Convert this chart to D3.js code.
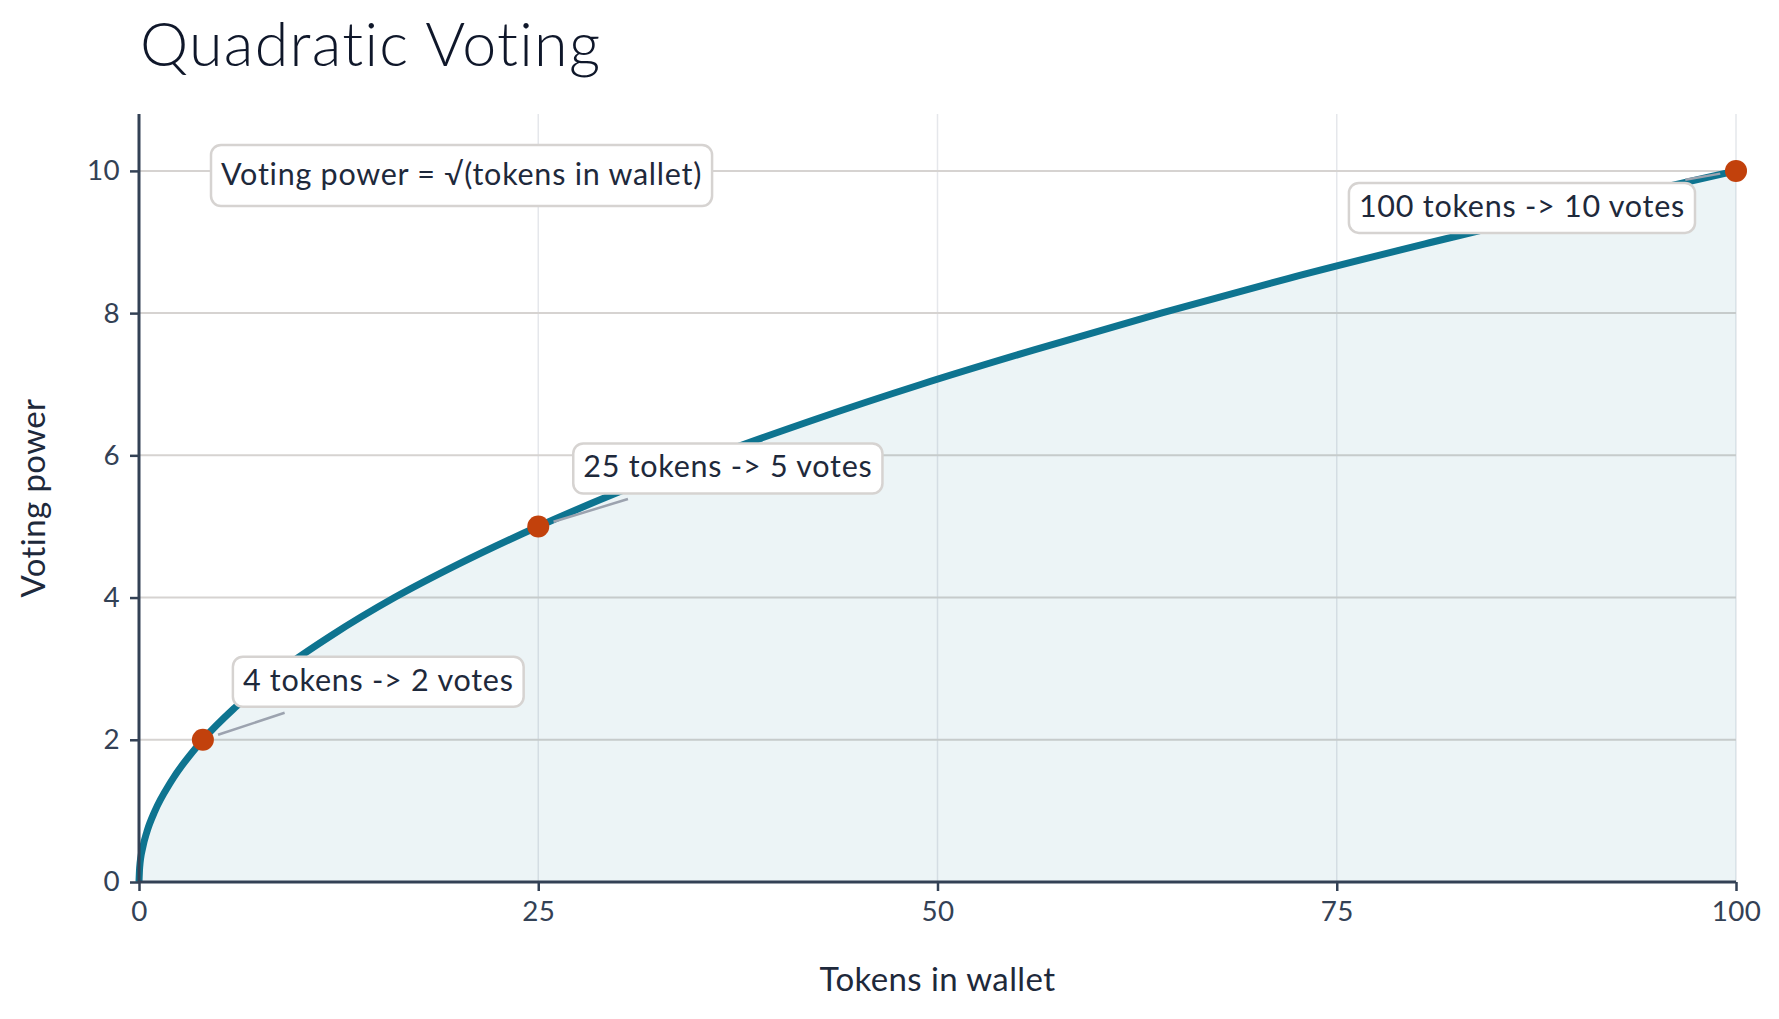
<!DOCTYPE html>
<html>
<head>
<meta charset="utf-8">
<script src="https://cdn.jsdelivr.net/npm/d3@7"></script>
<style>
  body { margin: 0; background: #fff; }
  svg { display: block; font-family: Lato, "Noto Sans", sans-serif; font-variant-ligatures: none; }
</style>
</head>
<body>
<div id="chart"></div>
<script>
// values
var tokens = [0, 0.04, 0.25, 0.5, 1, 2, 4, 6, 9, 12, 16, 20, 25, 30, 36, 42, 49, 56, 64, 72, 81, 90, 100];
var votes  = [0, 0.2, 0.5, 0.71, 1, 1.41, 2, 2.45, 3, 3.46, 4, 4.47, 5, 5.48, 6, 6.48, 7, 7.48, 8, 8.49, 9, 9.49, 10];

// highlighted points
var markTokens = [4, 25, 100];
var markVotes = [2, 5, 10];
var markLabels = ["4 tokens -> 2 votes", "25 tokens -> 5 votes", "100 tokens -> 10 votes"];

var xTicks = [0, 25, 50, 75, 100];
var yTicks = [0, 2, 4, 6, 8, 10];

var titleText = "Quadratic Voting";
var formulaText = "Voting power = \u221A(tokens in wallet)";

// label placement relative to each point (px): dx, dy to baseline, anchor
var labelOffsets = [
  {dx: 40, dy: -49, anchor: "start"},
  {dx: 45, dy: -49, anchor: "start"},
  {dx: -51, dy: 46, anchor: "end"}
];

var W = 1779, H = 1019;
var margin = {top: 114, right: 43, bottom: 137, left: 139},
    width = W - margin.left - margin.right,
    height = H - margin.top - margin.bottom;

var x = d3.scaleLinear().domain([0, 100]).range([0, width]);
var y = d3.scaleLinear().domain([0, 10.8]).range([height, 0]);

var svg = d3.select("#chart").append("svg")
    .attr("width", W)
    .attr("height", H);

svg.append("text")
    .attr("x", 140)
    .attr("y", 66)
    .attr("font-size", 61)
    .attr("font-weight", 300)
    .attr("letter-spacing", 1.3)
    .attr("fill", "#0f172a")
    .text(titleText);

var g = svg.append("g")
    .attr("transform", "translate(" + margin.left + "," + margin.top + ")");

// grid
g.selectAll(".vgrid").data(xTicks.slice(1)).enter().append("line")
    .attr("x1", function(d) { return x(d); })
    .attr("x2", function(d) { return x(d); })
    .attr("y1", 0).attr("y2", height)
    .attr("stroke", "#e5e7eb").attr("stroke-width", 1.5);

g.selectAll(".hgrid").data(yTicks.slice(1)).enter().append("line")
    .attr("x1", 0).attr("x2", width)
    .attr("y1", function(d) { return y(d); })
    .attr("y2", function(d) { return y(d); })
    .attr("stroke", "#d6d3d1").attr("stroke-width", 2);

var pts = tokens.map(function(t, i) { return [t, votes[i]]; });

var area = d3.area()
    .x(function(d) { return x(d[0]); })
    .y0(y(0))
    .y1(function(d) { return y(d[1]); })
    .curve(d3.curveMonotoneX);

var line = d3.line()
    .x(function(d) { return x(d[0]); })
    .y(function(d) { return y(d[1]); })
    .curve(d3.curveMonotoneX);

g.append("path").datum(pts)
    .attr("d", area)
    .attr("fill", "#0e7490")
    .attr("fill-opacity", 0.08);

g.append("path").datum(pts)
    .attr("d", line)
    .attr("fill", "none")
    .attr("stroke", "#0e7490")
    .attr("stroke-width", 7)
    .attr("stroke-linejoin", "round");

// axes
var xAxis = g.append("g")
    .attr("transform", "translate(0," + height + ")")
    .call(d3.axisBottom(x).tickValues(xTicks).tickSize(9).tickPadding(10));
var yAxis = g.append("g")
    .call(d3.axisLeft(y).tickValues(yTicks).tickSize(9).tickPadding(10));

[xAxis, yAxis].forEach(function(a) {
  a.select(".domain").attr("stroke", "#334155").attr("stroke-width", 3);
  a.selectAll(".tick line").attr("stroke", "#334155").attr("stroke-width", 2.5);
  a.selectAll(".tick text")
      .attr("fill", "#334155")
      .attr("font-size", 27.8)
      .attr("letter-spacing", 0.4)
      .attr("font-family", "Lato, 'Noto Sans', sans-serif");
});
xAxis.select(".domain").attr("d", "M0,0H" + width);
yAxis.select(".domain").attr("d", "M0," + height + "V0");

svg.append("text")
    .attr("x", margin.left + width / 2)
    .attr("y", 991)
    .attr("text-anchor", "middle")
    .attr("font-size", 33)
    .attr("letter-spacing", 0.4)
    .attr("fill", "#1e293b")
    .text("Tokens in wallet");

svg.append("text")
    .attr("transform", "translate(45," + (margin.top + height / 2) + ") rotate(-90)")
    .attr("text-anchor", "middle")
    .attr("font-size", 33)
    .attr("letter-spacing", 0.4)
    .attr("fill", "#1e293b")
    .text("Voting power");

// text box helper: returns the box rect in g coords
function textBox(parent, tx, ty, anchor, str, above, below) {
  var bg = parent.append("g");
  var rect = bg.append("rect");
  var t = bg.append("text")
      .attr("x", tx).attr("y", ty)
      .attr("text-anchor", anchor)
      .attr("font-size", 30.5)
      .attr("letter-spacing", 0.75)
      .attr("fill", "#1e293b")
      .text(str);
  var bb = t.node().getBBox();
  var b = {x: bb.x - 10, y: ty - above, w: bb.width + 20, h: above + below};
  rect.attr("x", b.x).attr("y", b.y)
      .attr("width", b.w).attr("height", b.h)
      .attr("rx", 10).attr("ry", 10)
      .attr("fill", "#fff")
      .attr("stroke", "#d6d3d1")
      .attr("stroke-width", 2.5);
  return b;
}

// formula box
textBox(g, 82, 71, "start", formulaText, 40, 21);

// annotations
var ann = g.append("g");
var leaders = g.append("g");
var dots = g.append("g");

markTokens.forEach(function(t, i) {
  var px = x(t), py = y(markVotes[i]);
  var o = labelOffsets[i];
  var b = textBox(ann, px + o.dx, py + o.dy, o.anchor, markLabels[i], 34, 16);
  // leader from the point toward the box centre, stopping short of the box
  var cx = b.x + b.w / 2, cy = b.y + b.h / 2;
  var vx = cx - px, vy = cy - py, len = Math.sqrt(vx * vx + vy * vy);
  var tx = vx > 0 ? (b.x - px) / vx : (b.x + b.w - px) / vx;
  var ty = vy > 0 ? (b.y - py) / vy : (b.y + b.h - py) / vy;
  var tEnter = Math.max(tx, ty) * len - 19;
  leaders.append("line")
      .attr("x1", px + vx / len * 16).attr("y1", py + vy / len * 16)
      .attr("x2", px + vx / len * tEnter).attr("y2", py + vy / len * tEnter)
      .attr("stroke", "#9ca3af")
      .attr("stroke-width", 2.5);
  dots.append("circle")
      .attr("cx", px).attr("cy", py).attr("r", 11)
      .attr("fill", "#c2410c");
});
</script>
</body>
</html>
